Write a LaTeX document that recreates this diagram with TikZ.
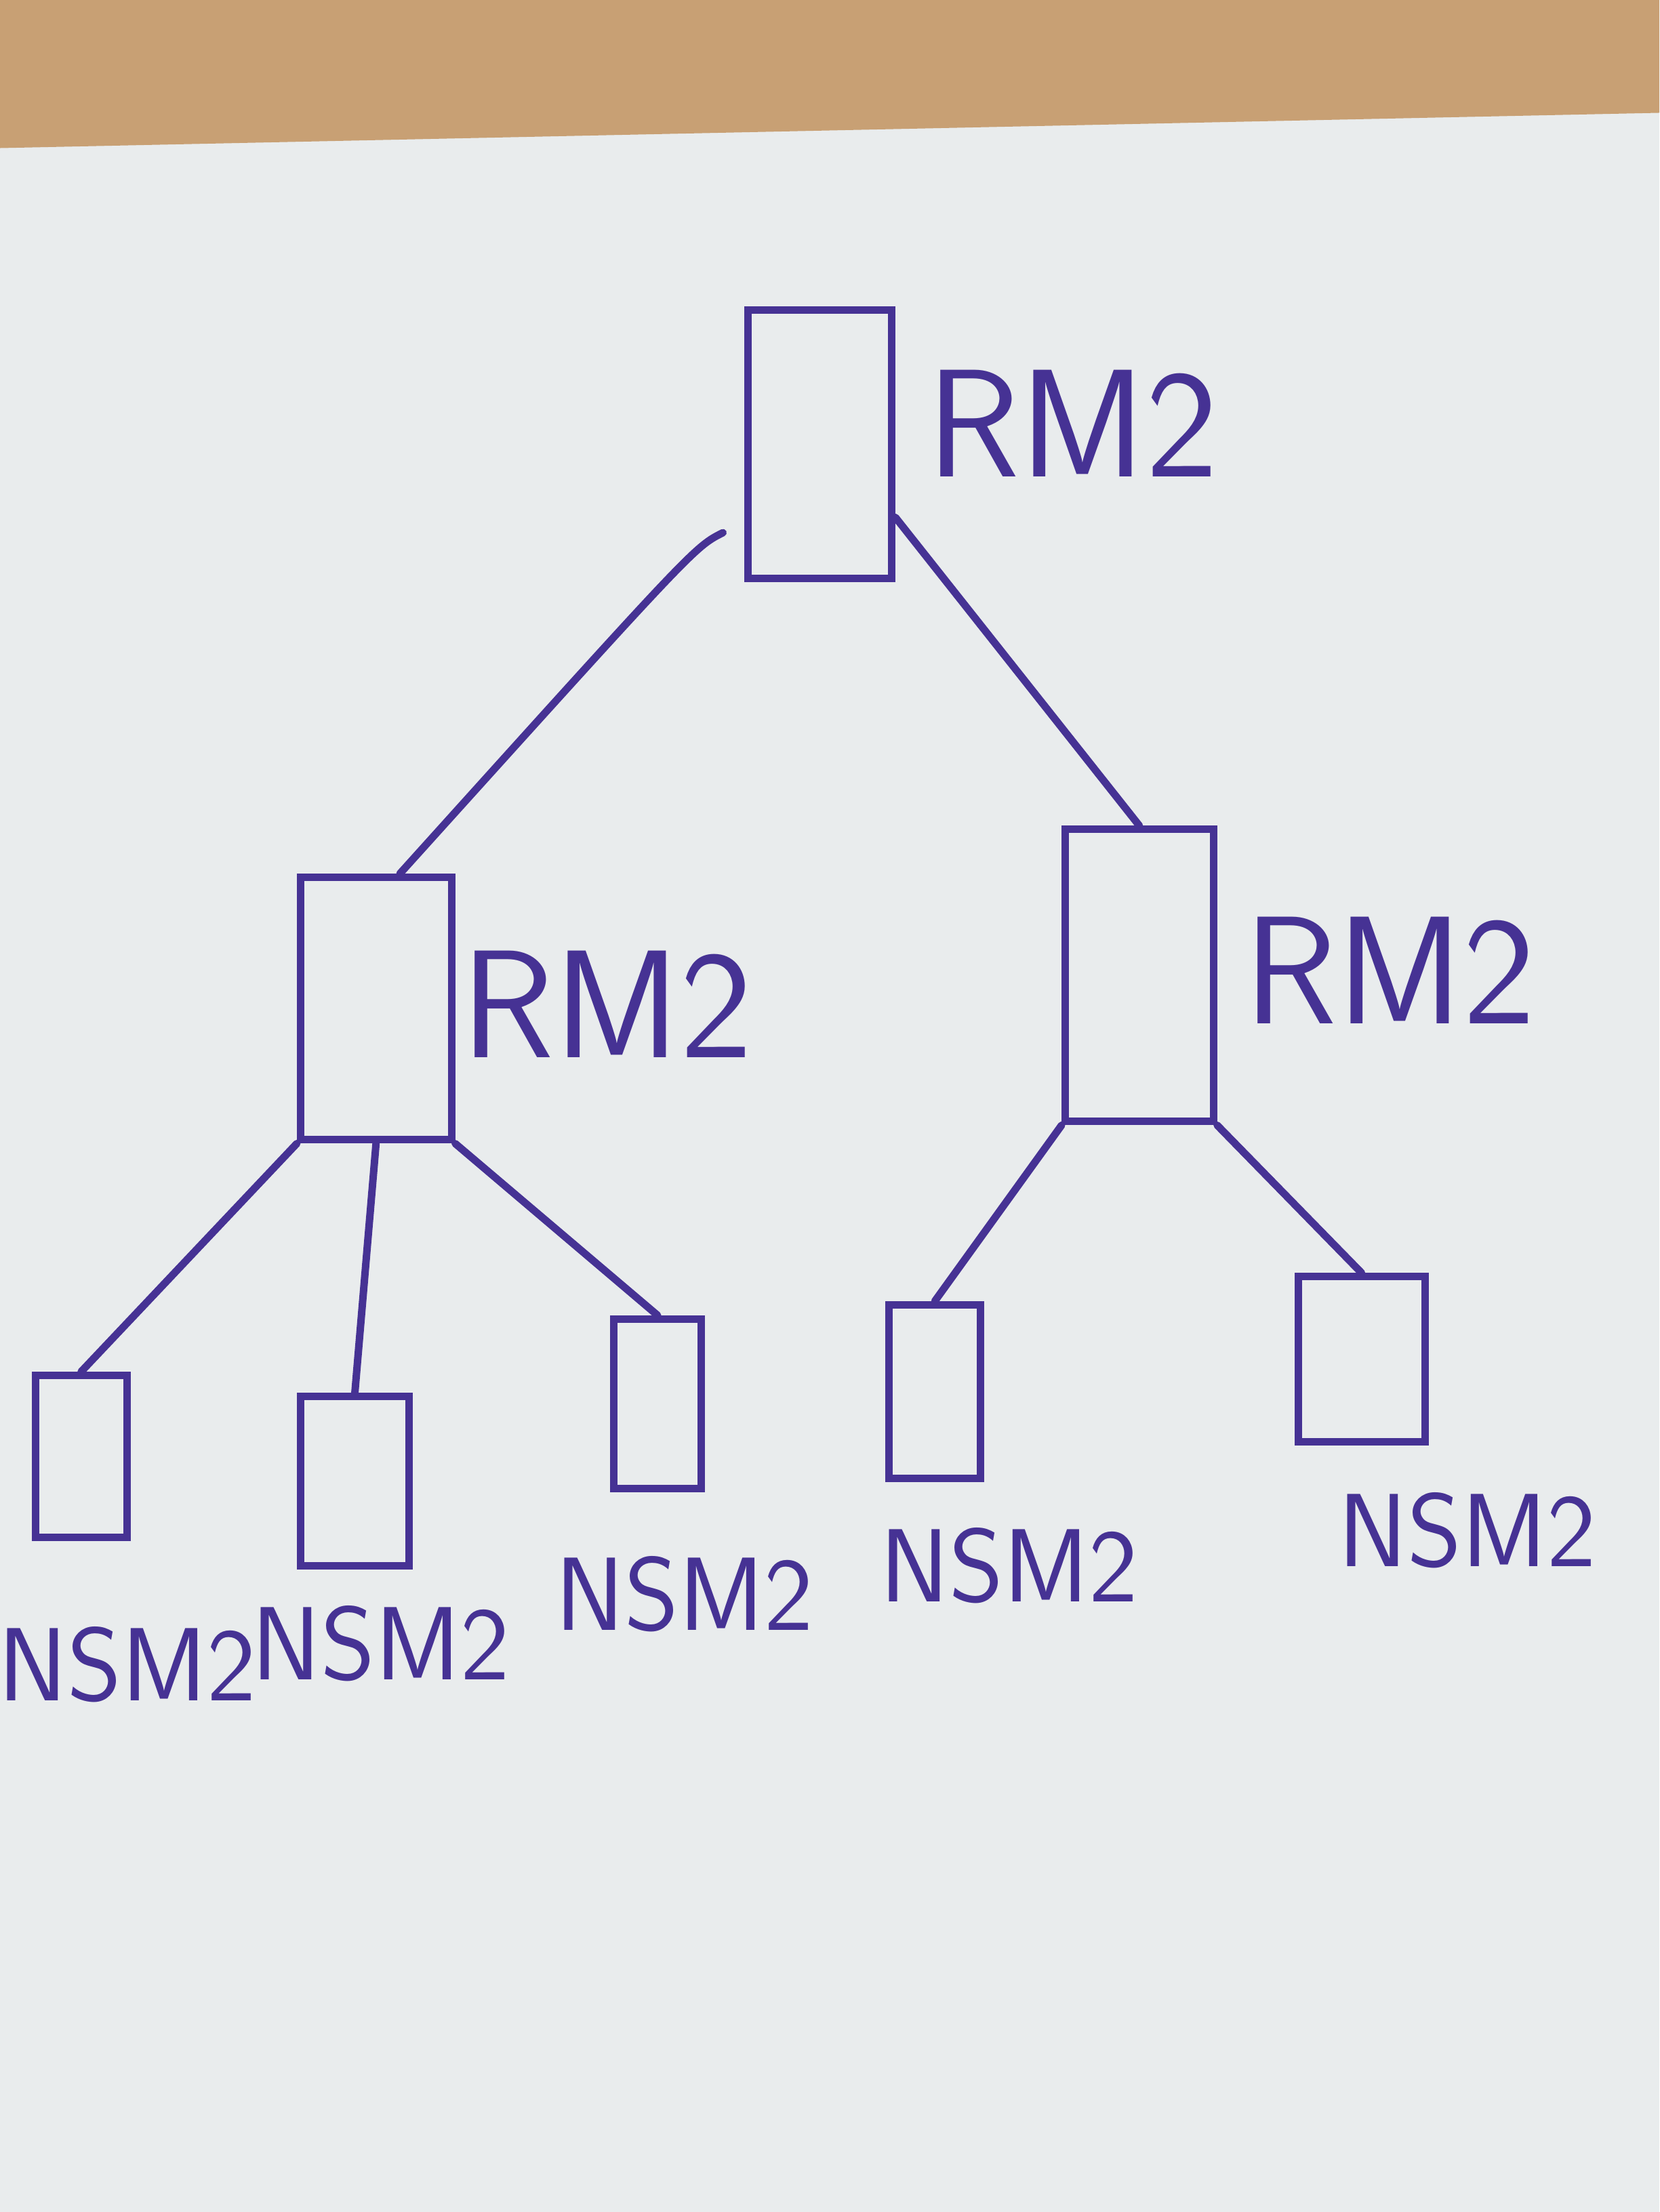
\documentclass[tikz,border=0pt]{standalone}
\usepackage{xcolor}
\usepackage{tikz}
\usetikzlibrary{positioning,calc}
\definecolor{ink}{RGB}{70,50,148}
\definecolor{paper}{RGB}{233,236,237}
\definecolor{wood}{RGB}{200,160,116}

\begin{document}
\begin{tikzpicture}[-, auto, color=ink, line width=3pt, line cap=round]
	\tikzstyle{module}=[draw=ink,line width=3pt,inner sep=0pt]
	\tikzstyle{rm}=[text=ink,font=\sffamily\fontsize{62}{66}\selectfont]
	\tikzstyle{nsm}=[text=ink,font=\sffamily\fontsize{42}{46}\selectfont]
	\useasboundingbox (0,0) rectangle (23.52,31.36);
	\fill[paper] (0,0) rectangle (23.52,31.36);
	\fill[wood] (0,31.36) -- (23.52,31.36) -- (23.52,29.76) -- (0,29.26) -- cycle;
	% root
	\node[module,minimum width=2.04cm,minimum height=3.8cm] (R)  at (11.62,25.06) {};
	\node[rm]  (Rl)  at (15.2,25.36) {RM2};
	% second level
	\node[module,minimum width=2.14cm,minimum height=3.72cm] (ML) at (5.33,17.06) {};
	\node[rm]  (MLl) at (8.6,17.12)  {RM2};
	\node[module,minimum width=2.1cm,minimum height=4.14cm]  (MR) at (16.15,17.53) {};
	\node[rm]  (MRl) at (19.7,17.6)  {RM2};
	% leaves
	\node[module,minimum width=1.3cm,minimum height=2.3cm]   (N1) at (1.15,10.71) {};
	\node[module,minimum width=1.54cm,minimum height=2.4cm]  (N2) at (5.03,10.36) {};
	\node[module,minimum width=1.24cm,minimum height=2.4cm]  (N3) at (9.32,11.46) {};
	\node[module,minimum width=1.3cm,minimum height=2.46cm]  (N4) at (13.25,11.63) {};
	\node[module,minimum width=1.8cm,minimum height=2.34cm]  (N5) at (19.3,12.09) {};
	\node[nsm] (N1l) at (1.8,7.76)  {NSM2};
	\node[nsm] (N2l) at (5.4,8.06)  {NSM2};
	\node[nsm] (N3l) at (9.7,8.76)  {NSM2};
	\node[nsm] (N4l) at (14.3,9.16) {NSM2};
	\node[nsm] (N5l) at (20.8,9.66) {NSM2};
	\draw ($(R.south west)+(-0.3,0.7)$) .. controls ($(R.south west)+(-0.7,0.5)$) .. (ML.80);
	\path
	(R.-44)         edge (MR.north)
	(ML.south west) edge (N1.north)
	(ML.south)      edge (N2.north)
	(ML.south east) edge (N3.north)
	(MR.south west) edge (N4.north)
	(MR.south east) edge (N5.north);
\end{tikzpicture}
\end{document}
